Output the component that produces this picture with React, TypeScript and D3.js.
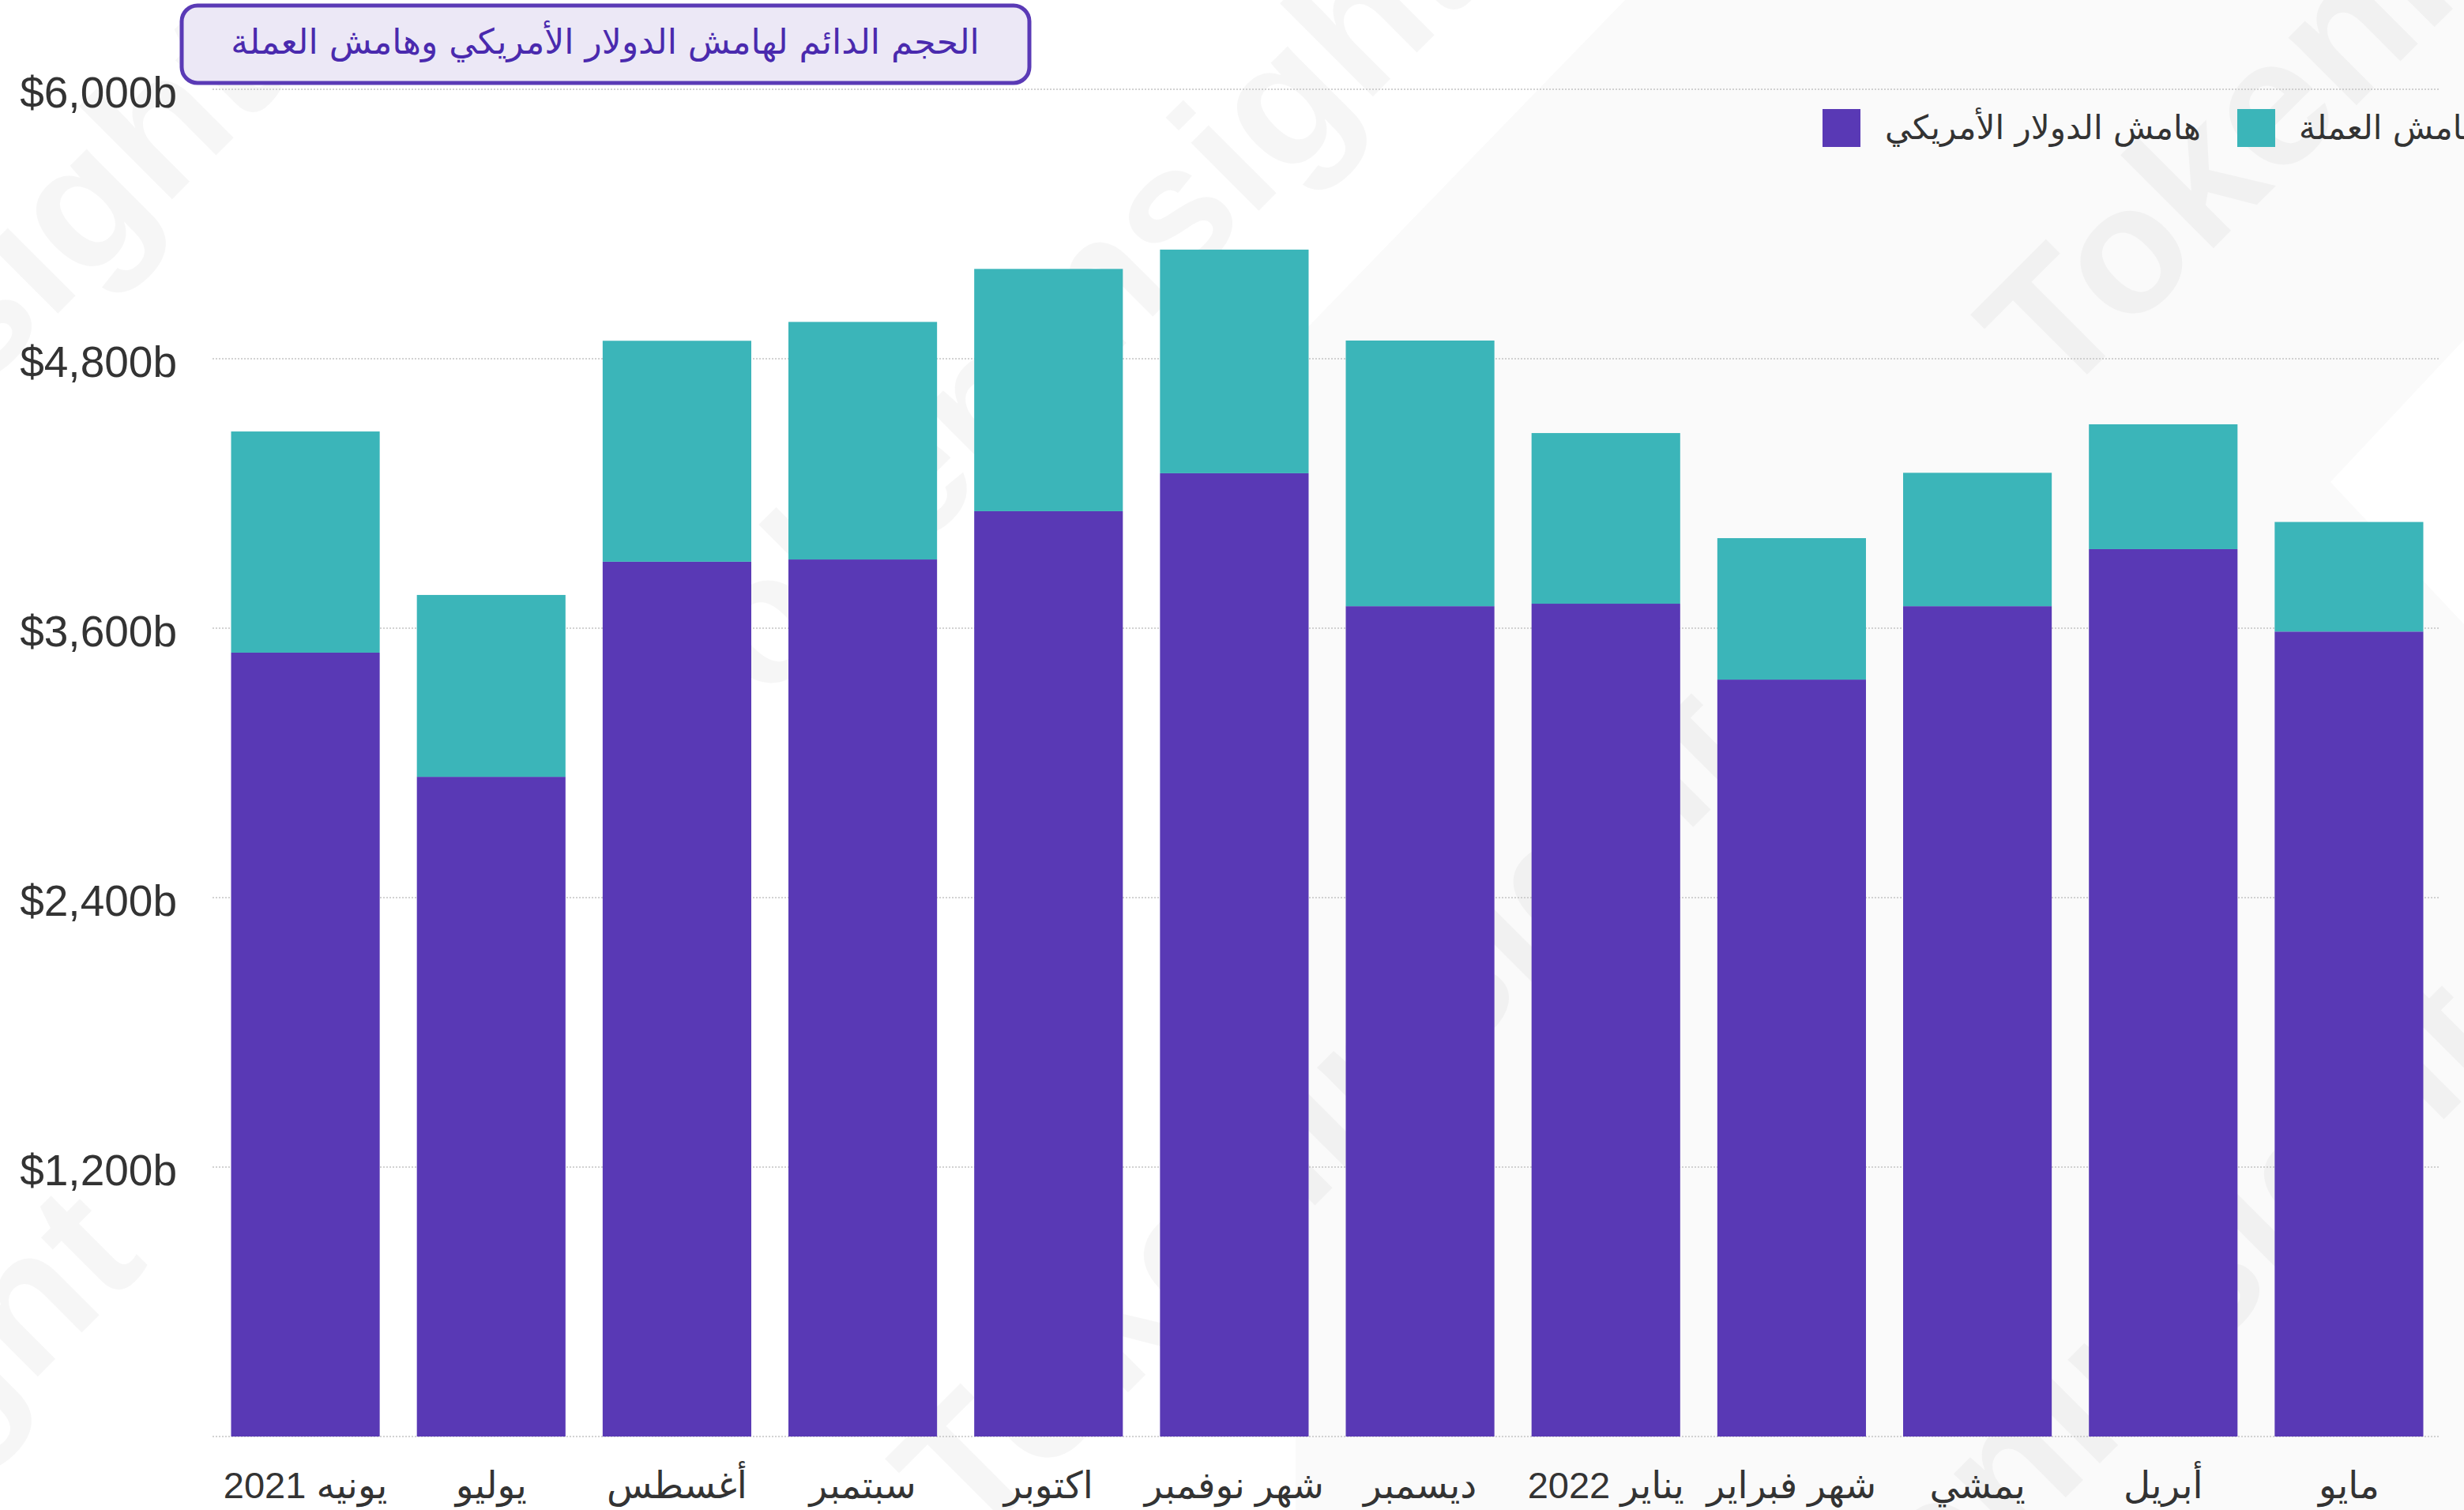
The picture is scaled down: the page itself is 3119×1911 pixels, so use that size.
import React from 'react';
import * as d3 from 'd3';

const months = [
  'يونيه 2021',
  'يوليو',
  'أغسطس',
  'سبتمبر',
  'اكتوبر',
  'شهر نوفمبر',
  'ديسمبر',
  'يناير 2022',
  'شهر فبراير',
  'يمشي',
  'أبريل',
  'مايو',
];

// USD margin (bottom, purple) and coin margin (top, teal), in $b
const usdMargin = [3491, 2938, 3896, 3906, 4121, 4290, 3698, 3709, 3371, 3698, 3952, 3585];
const coinMargin = [985, 810, 984, 1058, 1079, 996, 1183, 760, 630, 594, 556, 488];

const yTicks = [0, 1200, 2400, 3600, 4800, 6000];
const seriesKeys = ['usd', 'coin'];
const seriesNames = ['هامش الدولار الأمريكي', 'هامش العملة'];
const seriesColors = ['#5939b5', '#3bb5b9'];
const title = 'الحجم الدائم لهامش الدولار الأمريكي وهامش العملة';

const W = 3119;
const H = 1911;

const fmt = (v: number) => '$' + d3.format(',')(v) + 'b';

export default function App() {
  const x = d3.scaleBand<string>().domain(months).range([269, 3091]).paddingInner(0.2).paddingOuter(0.1);
  const y = d3.scaleLinear().domain([0, 6000]).range([1818, 113]);
  const data = months.map((m, i) => ({ month: m, usd: usdMargin[i], coin: coinMargin[i] }));
  const stacked = d3.stack<any>().keys(seriesKeys)(data);

  const wmStyle: React.CSSProperties = {
    fontFamily: '"Liberation Sans", Arial, sans-serif',
    fontWeight: 700,
    fontSize: 230,
    fill: '#000',
    fillOpacity: 0.035,
  };
  const watermarks = [
    { x: 2604, y: 512, anchor: 'start' },
    { x: 1880, y: -20, anchor: 'end' },
    { x: 360, y: 110, anchor: 'end' },
    { x: 190, y: 1600, anchor: 'end' },
    { x: 3180, y: 1330, anchor: 'end' },
    { x: 1230, y: 1960, anchor: 'start' },
  ];

  return (
    <div style={{ position: 'absolute', left: 0, top: 0, width: W, height: H, background: '#fff' }}>
      <svg width={W} height={H} viewBox={`0 0 ${W} ${H}`} style={{ display: 'block' }}>
        <rect x={0} y={0} width={W} height={H} fill="#fff" />
        <polygon
          points="2057,0 3119,0 3119,430 2950,610 3119,790 3119,1911 1640,1911 1640,430"
          fill="#fafafa"
        />
        {watermarks.map((w, i) => (
          <text
            key={i}
            x={0}
            y={0}
            transform={`translate(${w.x},${w.y}) rotate(-45)`}
            textAnchor={w.anchor as any}
            style={wmStyle}
          >
            TokenInsight
          </text>
        ))}

        {/* gridlines */}
        {yTicks.map((t) => (
          <line
            key={'g' + t}
            x1={269}
            x2={3089}
            y1={y(t)}
            y2={y(t)}
            stroke="#c4c4c4"
            strokeWidth={1.5}
            strokeDasharray="2 2"
          />
        ))}

        {/* y labels */}
        {yTicks
          .filter((t) => t > 0)
          .map((t) => (
            <text
              key={'yl' + t}
              x={224}
              y={y(t)}
              dy={23}
              textAnchor="end"
              fill="#333"
              style={{ fontFamily: '"Liberation Sans", Arial, sans-serif', fontSize: 55 }}
            >
              {fmt(t)}
            </text>
          ))}

        {/* bars */}
        {stacked.map((s, si) => (
          <g key={seriesKeys[si]} fill={seriesColors[si]}>
            {s.map((d: any) => (
              <rect
                key={d.data.month}
                x={x(d.data.month)}
                y={y(d[1])}
                width={x.bandwidth()}
                height={y(d[0]) - y(d[1])}
              />
            ))}
          </g>
        ))}

        {/* x labels */}
        {months.map((m) => (
          <text
            key={'xl' + m}
            x={(x(m) as number) + x.bandwidth() / 2}
            y={1896}
            textAnchor="middle"
            direction="rtl"
            fill="#333"
            style={{ fontFamily: '"Liberation Sans", "DejaVu Sans", Arial, sans-serif', fontSize: 47, direction: 'rtl', unicodeBidi: 'embed' }}
          >
            {m}
          </text>
        ))}

        {/* title box */}
        <rect x={230} y={7} width={1073} height={98} rx={20} ry={20} fill="#ece8f6" stroke="#5a3ab6" strokeWidth={5} />
        <text
          x={766}
          y={68}
          textAnchor="middle"
          fill="#4a2aae"
          style={{ fontFamily: '"DejaVu Sans", sans-serif', fontSize: 44, direction: 'rtl', unicodeBidi: 'embed' }}
        >
          {title}
        </text>

        {/* legend */}
        {[
          { sq: 2307, tx: 2386, i: 0 },
          { sq: 2832, tx: 2910, i: 1 },
        ].map((l) => (
          <g key={'lg' + l.i}>
            <rect x={l.sq} y={138} width={48} height={48} fill={seriesColors[l.i]} />
            <text
              x={l.tx}
              y={176}
              textAnchor="start"
              fill="#333"
              style={{ fontFamily: '"DejaVu Sans", sans-serif', fontSize: 42 }}
            >
              {seriesNames[l.i]}
            </text>
          </g>
        ))}
      </svg>
    </div>
  );
}
